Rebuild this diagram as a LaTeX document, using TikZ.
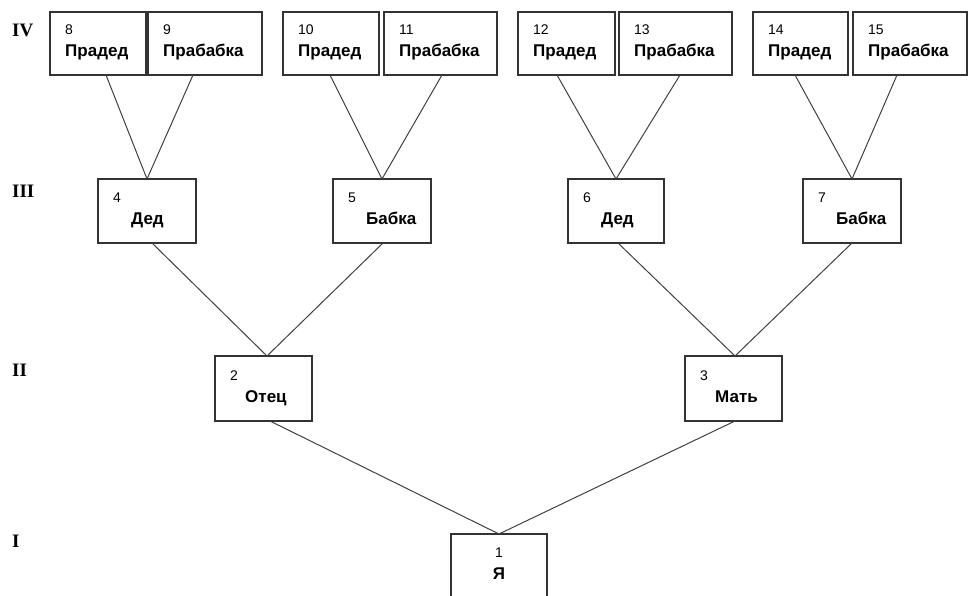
\documentclass[tikz,border=0pt]{standalone}
\usepackage{fontspec}
\setmainfont{Liberation Sans}
\newfontfamily\romfont{Liberation Serif}
\begin{document}
\begin{tikzpicture}[x=1pt,y=-1pt,
  box/.style={draw=black!80, line width=1.3pt, fill=white, inner sep=0pt, outer sep=0pt, anchor=north west, rectangle},
  tophbox/.style={box, minimum height=63pt},
  link/.style={draw=black!75, line width=1pt},
  numtxt/.style={anchor=base west, inner sep=0pt, font=\fontsize{14}{14}\selectfont},
  nametxt/.style={anchor=base west, inner sep=0pt, font=\fontsize{17}{17}\selectfont\bfseries},
  romtxt/.style={anchor=base west, inner sep=0pt, font=\fontsize{19}{19}\selectfont\romfont\bfseries}
]
\useasboundingbox (0,0) rectangle (969,596);
\clip (0,0) rectangle (969,596);

% Roman numerals
\node[romtxt] (r4) at (12,37) {IV};
\node[romtxt] (r3) at (12,198) {III};
\node[romtxt] (r2) at (12,376) {II};
\node[romtxt] (r1) at (12,547) {I};

% Level IV boxes
\node[tophbox, minimum width=96pt] (b8) at (50,12) {};
\node[tophbox, minimum width=114pt] (b9) at (148,12) {};
\node[tophbox, minimum width=96pt] (b10) at (283,12) {};
\node[tophbox, minimum width=113pt] (b11) at (384,12) {};
\node[tophbox, minimum width=97pt] (b12) at (518,12) {};
\node[tophbox, minimum width=113pt] (b13) at (619,12) {};
\node[tophbox, minimum width=95pt] (b14) at (753,12) {};
\node[tophbox, minimum width=114pt] (b15) at (853,12) {};

\foreach \b/\n/\t in {b8/8/Прадед, b9/9/Прабабка, b10/10/Прадед, b11/11/Прабабка, b12/12/Прадед, b13/13/Прабабка, b14/14/Прадед, b15/15/Прабабка}{
  \node[numtxt] (\b n) at ([xshift=15pt,yshift=-23pt]\b.north west) {\n};
  \node[nametxt] (\b t) at ([xshift=15pt,yshift=-45pt]\b.north west) {\t};
}

% Level III boxes
\node[box, minimum width=98pt, minimum height=64pt] (b4) at (98,179) {};
\node[box, minimum width=98pt, minimum height=64pt] (b5) at (333,179) {};
\node[box, minimum width=96pt, minimum height=64pt] (b6) at (568,179) {};
\node[box, minimum width=98pt, minimum height=64pt] (b7) at (803,179) {};
\foreach \b/\n/\t in {b4/4/Дед, b5/5/Бабка, b6/6/Дед, b7/7/Бабка}{
  \node[numtxt] (\b n) at ([xshift=15pt,yshift=-24pt]\b.north west) {\n};
  \node[nametxt] (\b t) at ([xshift=33pt,yshift=-46pt]\b.north west) {\t};
}

% Level II boxes
\node[box, minimum width=97pt, minimum height=65pt] (b2) at (215,356) {};
\node[box, minimum width=97pt, minimum height=65pt] (b3) at (685,356) {};
\foreach \b/\n/\t in {b2/2/Отец, b3/3/Мать}{
  \node[numtxt] (\b n) at ([xshift=15pt,yshift=-24pt]\b.north west) {\n};
  \node[nametxt] (\b t) at ([xshift=30pt,yshift=-46pt]\b.north west) {\t};
}

% Level I box
\node[box, minimum width=96pt, minimum height=80pt] (b1) at (451,534) {};
\node[anchor=base, inner sep=0pt, font=\fontsize{14}{14}\selectfont] (b1n) at ([yshift=-23pt]b1.north) {1};
\node[anchor=base, inner sep=0pt, font=\fontsize{17}{17}\selectfont\bfseries] (b1t) at ([yshift=-45pt]b1.north) {Я};

% Connectors IV -> III
\draw[link] ([xshift=56pt]b8.south west) -- (b4.north);
\draw[link] ([xshift=45pt]b9.south west) -- (b4.north);
\draw[link] ([xshift=47pt]b10.south west) -- (b5.north);
\draw[link] ([xshift=58pt]b11.south west) -- (b5.north);
\draw[link] ([xshift=39pt]b12.south west) -- (b6.north);
\draw[link] ([xshift=61pt]b13.south west) -- (b6.north);
\draw[link] ([xshift=42pt]b14.south west) -- (b7.north);
\draw[link] ([xshift=44pt]b15.south west) -- (b7.north);

% Connectors III -> II
\draw[link] ([xshift=54pt]b4.south west) -- ([xshift=52pt]b2.north west);
\draw[link] ([xshift=50pt]b5.south west) -- ([xshift=52pt]b2.north west);
\draw[link] ([xshift=50pt]b6.south west) -- ([xshift=50pt]b3.north west);
\draw[link] ([xshift=49pt]b7.south west) -- ([xshift=50pt]b3.north west);

% Connectors II -> I
\draw[link] ([xshift=55pt]b2.south west) -- (b1.north);
\draw[link] ([xshift=50pt]b3.south west) -- (b1.north);
\end{tikzpicture}
\end{document}
